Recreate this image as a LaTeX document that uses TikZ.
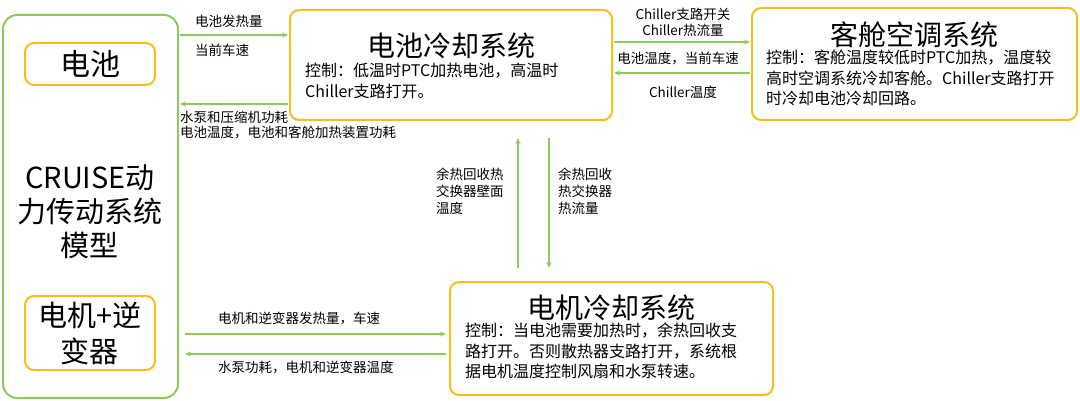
\documentclass[tikz,border=0pt]{standalone}
\usepackage{fontspec}
\setmainfont{Noto Sans CJK SC}
\usetikzlibrary{arrows.meta}
\definecolor{gr}{HTML}{8CCB5A}
\definecolor{og}{HTML}{F5BE1E}
\begin{document}
\begin{tikzpicture}[x=1pt,y=-1pt,
  obox/.style={draw=og,line width=2pt,rounded corners=9pt},
  gbox/.style={draw=gr,line width=2pt,rounded corners=14pt},
  arr/.style={draw=gr,line width=1.1pt,-{Stealth[length=6pt,width=5pt]}},
  lab/.style={font=\fontsize{13.5}{16}\selectfont,inner sep=0pt,anchor=west},
  ttl/.style={font=\fontsize{28}{32}\selectfont,inner sep=0pt},
  body/.style={font=\fontsize{16}{20.5}\selectfont,inner sep=0pt,anchor=north west,align=left}]
\useasboundingbox (0,0) rectangle (1080,401);
\draw[gbox] (3,15) rectangle (178,398);
\node[obox,minimum width=130,minimum height=42,font=\fontsize{30}{34}\selectfont] (bat) at (90,64) {电池};
\node[obox,minimum width=130,minimum height=74,align=center,font=\fontsize{29}{36}\selectfont] (mot) at (90,333) {电机+逆\\变器};
\node[align=center,font=\fontsize{29}{34}\selectfont] (cr) at (90,212) {CRUISE动\\力传动系统\\模型};
% battery cooling
\draw[obox] (290,10) rectangle (612,120);
\node[ttl] (bc) at (451,46) {电池冷却系统};
\node[body] at (305,63) {控制：低温时PTC加热电池，高温时\\Chiller支路打开。};
% cabin
\draw[obox] (752,8) rectangle (1077,120);
\node[ttl] (cab) at (914,35) {客舱空调系统};
\node[body] at (766,50) {控制：客舱温度较低时PTC加热，温度较\\高时空调系统冷却客舱。Chiller支路打开\\时冷却电池冷却回路。};
% motor cooling
\draw[obox] (450,282) rectangle (773,395);
\node[ttl] (mc) at (611,308) {电机冷却系统};
\node[body] at (465,323) {控制：当电池需要加热时，余热回收支\\路打开。否则散热器支路打开，系统根\\据电机温度控制风扇和水泵转速。};
% arrows
\coordinate (a1) at (180,35); \coordinate (a2) at (288,35);
\draw[arr] (a1) -- (a2);
\node[lab] at (195,21) {电池发热量};
\node[lab] at (195,50) {当前车速};
\coordinate (b1) at (288,104); \coordinate (b2) at (180,104);
\draw[arr] (b1) -- (b2);
\node[lab,anchor=north west,align=left,font=\fontsize{13.5}{15}\selectfont] at (180,111) {水泵和压缩机功耗\\电池温度，电池和客舱加热装置功耗};
\coordinate (c1) at (614,42); \coordinate (c2) at (750,42);
\draw[arr] (c1) -- (c2);
\node[lab,anchor=south,align=center,font=\fontsize{13.5}{16}\selectfont] at (683,37) {Chiller支路开关\\Chiller热流量};
\coordinate (d1) at (750,73); \coordinate (d2) at (614,73);
\draw[arr] (d1) -- (d2);
\node[lab,anchor=center] at (678,59) {电池温度，当前车速};
\node[lab,anchor=center] at (683,92) {Chiller温度};
\coordinate (e1) at (518,268); \coordinate (e2) at (518,138);
\draw[arr] (e1) -- (e2);
\node[lab,anchor=north west,align=left,font=\fontsize{13.5}{17}\selectfont] at (436,168) {余热回收热\\交换器壁面\\温度};
\coordinate (f1) at (549,138); \coordinate (f2) at (549,268);
\draw[arr] (f1) -- (f2);
\node[lab,anchor=north west,align=left,font=\fontsize{13.5}{17}\selectfont] at (558,168) {余热回收\\热交换器\\热流量};
\coordinate (g1) at (185,334); \coordinate (g2) at (446,334);
\draw[arr] (g1) -- (g2);
\node[lab] at (218,318) {电机和逆变器发热量，车速};
\coordinate (h1) at (446,354); \coordinate (h2) at (185,354);
\draw[arr] (h1) -- (h2);
\node[lab] at (218,367) {水泵功耗，电机和逆变器温度};
\end{tikzpicture}
\end{document}
